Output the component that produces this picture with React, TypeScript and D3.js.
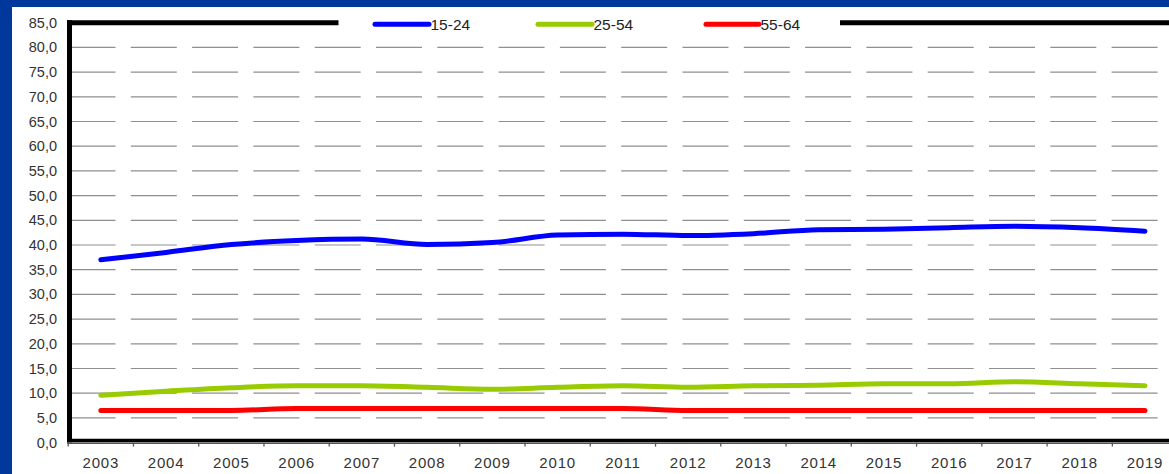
import * as d3 from "d3";

const years = ["2003", "2004", "2005", "2006", "2007", "2008", "2009", "2010", "2011", "2012", "2013", "2014", "2015", "2016", "2017", "2018", "2019"];
const age1524 = [37.0, 38.5, 40.1, 40.9, 41.2, 40.1, 40.5, 42.0, 42.2, 41.9, 42.3, 43.1, 43.2, 43.5, 43.8, 43.5, 42.8];
const age2554 = [9.6, 10.4, 11.1, 11.5, 11.5, 11.2, 10.8, 11.2, 11.5, 11.2, 11.5, 11.6, 11.9, 11.9, 12.3, 11.9, 11.5];
const age5564 = [6.5, 6.5, 6.5, 6.9, 6.9, 6.9, 6.9, 6.9, 6.9, 6.5, 6.5, 6.5, 6.5, 6.5, 6.5, 6.5, 6.5];
const yTicks = [0, 5, 10, 15, 20, 25, 30, 35, 40, 45, 50, 55, 60, 65, 70, 75, 80, 85];

const series = [
  { name: "15-24", values: age1524, color: "#0000FF" },
  { name: "25-54", values: age2554, color: "#99CC00" },
  { name: "55-64", values: age5564, color: "#FF0000" },
];

const W = 1169, H = 474;
const FONT = "'Liberation Sans', Arial, sans-serif";

export default function App() {
  const x = d3.scaleBand<string>().domain(years).range([68.2, 1177.6]);
  const y = d3.scaleLinear().domain([0, 85]).range([442.6, 22.7]);
  const cx = (i: number) => (x(years[i]) ?? 0) + x.bandwidth() / 2;
  const line = (vals: number[]) =>
    d3.line<number>().x((_d, i) => cx(i)).y((d) => y(d)).curve(d3.curveMonotoneX)(vals) ?? "";

  // legend positions
  const legend = [
    { x1: 375, x2: 429 },
    { x1: 538, x2: 592 },
    { x1: 706, x2: 759 },
  ];
  const ax = 69.5;

  return (
    <svg width={W} height={H} style={{ position: "absolute", left: 0, top: 0, background: "#fff" }} fontFamily={FONT}>
      {/* frame */}
      <rect x={0} y={0} width={W} height={7} fill="#00379b" />
      <rect x={0} y={0} width={12} height={H} fill="#00379b" />

      {/* gridlines */}
      {yTicks.filter((t) => t > 0 && t < 85).map((t) => (
        <line key={t} x1={ax} x2={W} y1={y(t)} y2={y(t)} stroke="#8f8f8f" strokeWidth={1.2} strokeDasharray="46 15.3" />
      ))}

      {/* y tick labels */}
      {yTicks.map((t) => (
        <text key={t} x={57} y={y(t) + 5} textAnchor="end" fontSize={14.5} fill="#333">
          {t.toFixed(1).replace(".", ",")}
        </text>
      ))}

      {/* x axis */}
      <line x1={ax - 2.5} x2={W} y1={y(0) - 2} y2={y(0) - 2} stroke="#000" strokeWidth={3.5} />
      <line x1={ax - 2.5} x2={W} y1={y(0) + 0.6} y2={y(0) + 0.6} stroke="#555" strokeWidth={1.5} />
      {years.map((yr) => (
        <line key={yr} x1={x(yr)} x2={x(yr)} y1={y(0)} y2={y(0) + 4} stroke="#555" strokeWidth={1.3} />
      ))}
      {years.map((yr) => (
        <text key={yr} x={(x(yr) ?? 0) + x.bandwidth() / 2} y={468} textAnchor="middle" fontSize={15} letterSpacing={0.8} fill="#333">
          {yr}
        </text>
      ))}

      {/* y axis and top frame (broken by legend) */}
      <line x1={ax} x2={ax} y1={y(85) - 2.5} y2={y(0) - 0.3} stroke="#000" strokeWidth={5} />
      <line x1={ax - 2.5} x2={338.5} y1={y(85)} y2={y(85)} stroke="#000" strokeWidth={5} />
      <line x1={840} x2={W} y1={y(85)} y2={y(85)} stroke="#000" strokeWidth={5} />

      {/* series */}
      {series.map((s) => (
        <path key={s.name} d={line(s.values)} fill="none" stroke={s.color} strokeWidth={5} strokeLinecap="round" strokeLinejoin="round" />
      ))}

      {/* legend */}
      {series.map((s, i) => (
        <g key={s.name}>
          <line x1={legend[i].x1} x2={legend[i].x2} y1={24.3} y2={24.3} stroke={s.color} strokeWidth={5} strokeLinecap="round" />
          <text x={legend[i].x2 + 1.5} y={30} fontSize={15.5} fill="#222">{s.name}</text>
        </g>
      ))}
    </svg>
  );
}
